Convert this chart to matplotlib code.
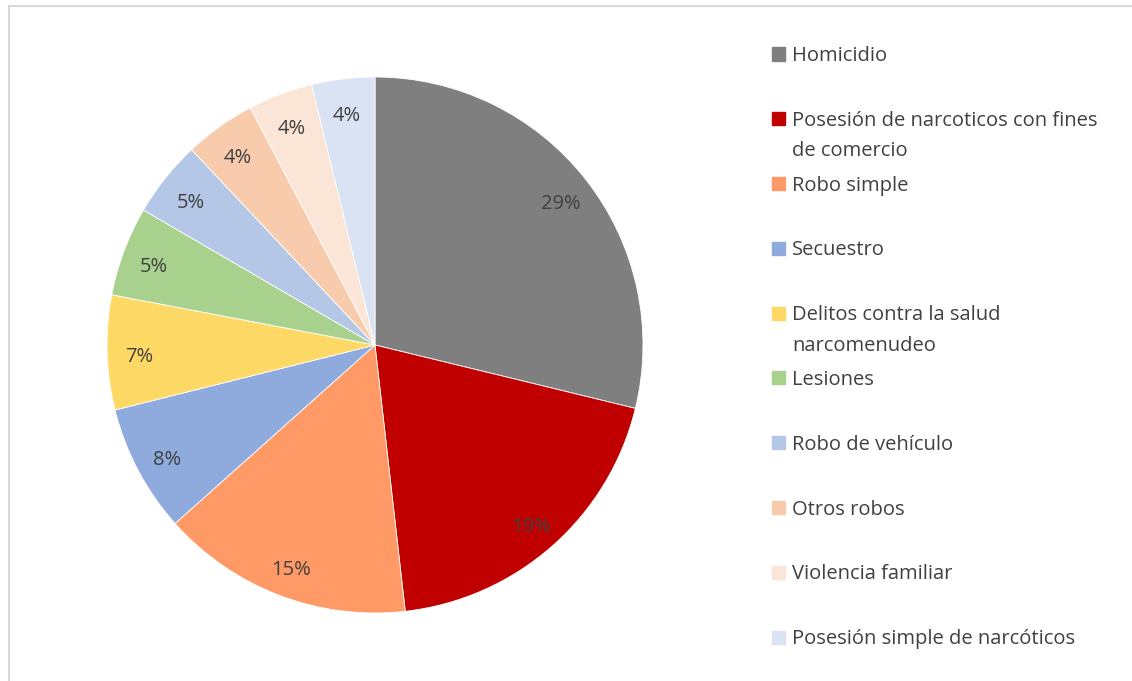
import textwrap
import matplotlib
matplotlib.use("Agg")
import matplotlib.pyplot as plt
from matplotlib.patches import Rectangle
from matplotlib.lines import Line2D
from matplotlib.transforms import offset_copy

# datos (porcentaje de cada delito)
delitos = ["Homicidio",
           "Posesión de narcoticos con fines de comercio",
           "Robo simple",
           "Secuestro",
           "Delitos contra la salud narcomenudeo",
           "Lesiones",
           "Robo de vehículo",
           "Otros robos",
           "Violencia familiar",
           "Posesión simple de narcóticos"]
porcentajes = [28.8, 19.4, 15.2, 7.7, 6.9, 5.4, 4.6, 4.3, 3.9, 3.8]
colores = ["#7F7F7F", "#C00000", "#FF9966", "#8FAADC", "#FFD966",
           "#A9D18E", "#B4C7E7", "#F8CBAD", "#FBE5D6", "#DAE3F3"]

plt.rcParams['font.family'] = ['Open Sans', 'DejaVu Sans']
gris_texto = "#404040"

W, H = 1132, 681
fig = plt.figure(figsize=(W / 100, H / 100), dpi=100)

# marco gris (solo arriba e izquierda visibles)
fig.add_artist(Line2D([8.5 / W, 8.5 / W], [0, 1 - 5.5 / H], color="#D9D9D9", lw=1.5))
fig.add_artist(Line2D([8.5 / W, 1], [1 - 5.5 / H, 1 - 5.5 / H], color="#D9D9D9", lw=1.5))

# pastel
cx, cy, r = 375, 345, 268
ax = fig.add_axes([(cx - r) / W, 1 - (cy + r) / H, 2 * r / W, 2 * r / H])
wedges, textos, pcts = ax.pie(porcentajes, colors=colores, startangle=90, counterclock=False,
                             autopct='%1.0f%%', pctdistance=0.88,
                             wedgeprops=dict(edgecolor="white", linewidth=0.6),
                             textprops=dict(color=gris_texto, fontsize=14.5))
ax.set_xlim(-1, 1)
ax.set_ylim(-1, 1)
ax.set_aspect('equal')
ax.axis('off')
for t in pcts:
    t.set_transform(offset_copy(ax.transData, fig=fig, y=-5, units='dots'))

# leyenda manual
y0, paso = 54, 64.8
for i, (nombre, col) in enumerate(zip(delitos, colores)):
    y = y0 + i * paso
    fig.add_artist(Rectangle((772 / W, 1 - (y + 6.5) / H), 13 / W, 13 / H,
                             color=col, transform=fig.transFigure))
    fig.text(792 / W, 1 - (y - 8) / H, textwrap.fill(nombre, 33), ha='left', va='top',
             fontsize=14.5, color=gris_texto, linespacing=1.7)

fig.savefig("out.png", dpi=100)
